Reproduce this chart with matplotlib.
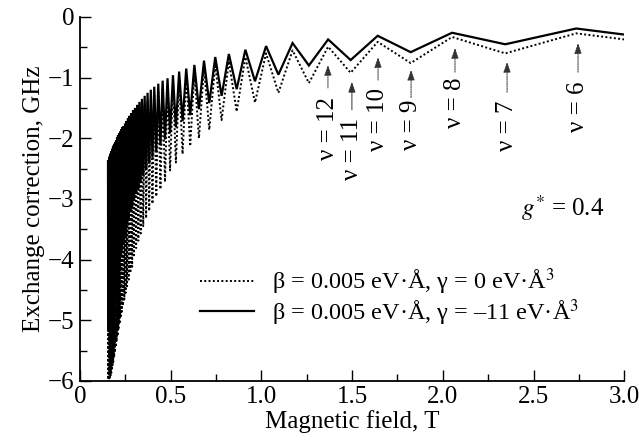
import matplotlib

matplotlib.use("Agg")
import matplotlib.pyplot as plt
import matplotlib.ticker

# filling factor of every cusp, the field where it sits [T] and the read-off
# exchange correction [GHz] for both curves (even nu = peaks, odd nu = dips)
NU = [
    6, 7, 8, 9, 10, 11, 12, 13, 14, 15, 16, 17, 18, 19, 20, 21, 22, 23, 24, 25,
    26, 27, 28, 29, 30, 31, 32, 33, 34, 35, 36, 37, 38, 39, 40, 41, 42, 43, 44,
    45, 46, 47, 48, 49, 50, 51, 52, 53, 54, 55, 56, 57, 58, 59, 60, 61, 62, 63,
    64, 65, 66, 67, 68, 69, 70, 71, 72, 73, 74, 75, 76, 77, 78, 79, 80, 81, 82,
    83, 84, 85, 86, 87, 88, 89, 90, 91, 92, 93, 94, 95, 96, 97, 98, 99, 100,
    101, 102, 103, 104, 105, 106,
]
FIELD = [
    2.735, 2.344, 2.051, 1.823, 1.641, 1.492, 1.368, 1.262, 1.172, 1.094,
    1.026, 0.965, 0.912, 0.864, 0.821, 0.781, 0.746, 0.713, 0.684, 0.656,
    0.631, 0.608, 0.586, 0.566, 0.547, 0.529, 0.513, 0.497, 0.483, 0.469,
    0.456, 0.444, 0.432, 0.421, 0.410, 0.400, 0.391, 0.382, 0.373, 0.365,
    0.357, 0.349, 0.342, 0.335, 0.328, 0.322, 0.316, 0.310, 0.304, 0.298,
    0.293, 0.288, 0.283, 0.278, 0.274, 0.269, 0.265, 0.260, 0.256, 0.252,
    0.249, 0.245, 0.241, 0.238, 0.234, 0.231, 0.228, 0.225, 0.222, 0.219,
    0.216, 0.213, 0.210, 0.208, 0.205, 0.203, 0.200, 0.198, 0.195, 0.193,
    0.191, 0.189, 0.186, 0.184, 0.182, 0.180, 0.178, 0.176, 0.175, 0.173,
    0.171, 0.169, 0.167, 0.166, 0.164, 0.162, 0.161, 0.159, 0.158, 0.156,
    0.155,
]
SOLID = [
    -0.19, -0.45, -0.26, -0.58, -0.31, -0.71, -0.37, -0.80, -0.43, -0.95,
    -0.48, -1.06, -0.54, -1.19, -0.61, -1.30, -0.66, -1.42, -0.72, -1.52,
    -0.79, -1.62, -0.85, -1.72, -0.90, -1.82, -0.96, -1.92, -1.01, -2.02,
    -1.05, -2.12, -1.10, -2.22, -1.15, -2.32, -1.20, -2.42, -1.25, -2.52,
    -1.30, -2.62, -1.35, -2.72, -1.40, -2.82, -1.45, -2.92, -1.50, -3.02,
    -1.54, -3.12, -1.59, -3.22, -1.63, -3.32, -1.67, -3.42, -1.72, -3.53,
    -1.76, -3.63, -1.80, -3.74, -1.82, -3.84, -1.85, -3.94, -1.89, -4.04,
    -1.92, -4.14, -1.95, -4.24, -1.99, -4.34, -2.03, -4.44, -2.06, -4.54,
    -2.09, -4.63, -2.12, -4.72, -2.15, -4.81, -2.18, -4.88, -2.21, -4.95,
    -2.24, -5.01, -2.27, -5.06, -2.30, -5.11, -2.33, -5.15, -2.36, -5.18,
    -2.39,
]
DOTTED = [
    -0.27, -0.60, -0.33, -0.76, -0.41, -0.92, -0.49, -1.09, -0.55, -1.25,
    -0.60, -1.41, -0.66, -1.56, -0.73, -1.70, -0.78, -1.86, -0.84, -2.00,
    -0.91, -2.13, -0.97, -2.26, -1.03, -2.40, -1.09, -2.53, -1.14, -2.72,
    -1.19, -2.84, -1.24, -2.96, -1.29, -3.08, -1.34, -3.20, -1.39, -3.32,
    -1.44, -3.45, -1.49, -3.57, -1.55, -3.69, -1.60, -3.81, -1.65, -3.93,
    -1.70, -4.12, -1.75, -4.22, -1.79, -4.33, -1.84, -4.44, -1.89, -4.55,
    -1.93, -4.66, -1.97, -4.76, -2.00, -4.86, -2.04, -4.96, -2.08, -5.06,
    -2.11, -5.16, -2.15, -5.26, -2.19, -5.35, -2.23, -5.44, -2.27, -5.53,
    -2.30, -5.61, -2.34, -5.69, -2.37, -5.76, -2.40, -5.82, -2.44, -5.87,
    -2.47, -5.91, -2.50, -5.94, -2.53, -5.96, -2.56, -5.97, -2.59, -5.98,
    -2.62,
]
END_FIELD = 3.0
END_SOLID = -0.29
END_DOTTED = -0.37

LABELS = [
    "\u03b2 = 0.005 eV\u00b7\u00c5, \u03b3 = 0 eV\u00b7\u00c5$^3$",
    "\u03b2 = 0.005 eV\u00b7\u00c5, \u03b3 = \u201311 eV\u00b7\u00c5$^3$",
]
MARKED_NU = [12, 11, 10, 9, 8, 7, 6]

# (x, arrow tip, arrow tail, top of label) for each marked filling factor
MARK_POS = {
    12: (1.367, -0.79, -1.17, -1.32),
    11: (1.499, -1.07, -1.53, -1.66),
    10: (1.643, -0.66, -1.04, -1.17),
    9: (1.825, -0.87, -1.33, -1.37),
    8: (2.067, -0.51, -0.91, -1.00),
    7: (2.354, -0.74, -1.24, -1.37),
    6: (2.745, -0.43, -0.91, -1.07),
}


def mark_nu(ax, nu):
    x, tip, tail, top = MARK_POS[nu]
    ax.annotate(
        "",
        xy=(x, tip),
        xytext=(x, tail),
        arrowprops=dict(
            arrowstyle="-|>,head_length=0.35,head_width=0.12",
            lw=0.7,
            color="#333333",
            linestyle="-" if nu == 11 else (0, (1.5, 1)),
            shrinkA=0,
            shrinkB=0,
        ),
    )
    ax.text(
        x,
        top,
        f"\u03bd = {nu}",
        rotation=90,
        ha="center",
        va="top",
        fontsize=18,
    )


def main():
    plt.rcParams["font.family"] = ["Liberation Serif", "DejaVu Serif"]
    plt.rcParams["mathtext.fontset"] = "stix"
    plt.rcParams["font.size"] = 18

    fig = plt.figure(figsize=(6.39, 4.47), dpi=100)
    ax = fig.add_axes([0.125, 0.148, 0.852, 0.814])

    ax.plot(
        [END_FIELD] + FIELD,
        [END_DOTTED] + DOTTED,
        color="black",
        lw=1.4,
        linestyle=(0, (1, 1.2)),
        label=LABELS[0],
    )
    ax.plot(
        [END_FIELD] + FIELD,
        [END_SOLID] + SOLID,
        color="black",
        lw=1.6,
        solid_joinstyle="miter",
        label=LABELS[1],
    )

    for nu in MARKED_NU:
        mark_nu(ax, nu)

    ax.text(2.43, -3.15, "$g^{*}$ = 0.4", ha="left", va="center", fontsize=18)

    ax.set_xlim(0, 3.0)
    ax.set_ylim(-6, 0)
    ax.xaxis.set_major_locator(matplotlib.ticker.MultipleLocator(0.5))
    ax.xaxis.set_minor_locator(matplotlib.ticker.MultipleLocator(0.25))
    ax.yaxis.set_major_locator(matplotlib.ticker.MultipleLocator(1))
    ax.yaxis.set_minor_locator(matplotlib.ticker.MultipleLocator(0.5))
    ax.xaxis.set_major_formatter(
        matplotlib.ticker.FuncFormatter(lambda v, _: "0" if v == 0 else f"{v:.1f}")
    )
    ax.tick_params(axis="both", which="major", direction="in", length=8, width=1.0, labelsize=18, pad=4)
    ax.tick_params(axis="both", which="minor", direction="in", length=5, width=1.0)
    ax.spines["top"].set_visible(False)
    ax.spines["right"].set_visible(False)
    ax.spines["left"].set_linewidth(1.3)
    ax.spines["bottom"].set_linewidth(1.3)

    ax.set_xlabel("Magnetic field, T", fontsize=18, labelpad=1)
    ax.set_ylabel("Exchange correction, GHz", fontsize=18, labelpad=2)

    ax.legend(
        loc="center left",
        bbox_to_anchor=(0.221, 0.23),
        frameon=False,
        fontsize=17.5,
        handlelength=2.2,
        handletextpad=0.75,
        labelspacing=0.0,
        borderpad=0,
        borderaxespad=0,
    )

    fig.savefig("out.png", dpi=100)


if __name__ == "__main__":
    main()
